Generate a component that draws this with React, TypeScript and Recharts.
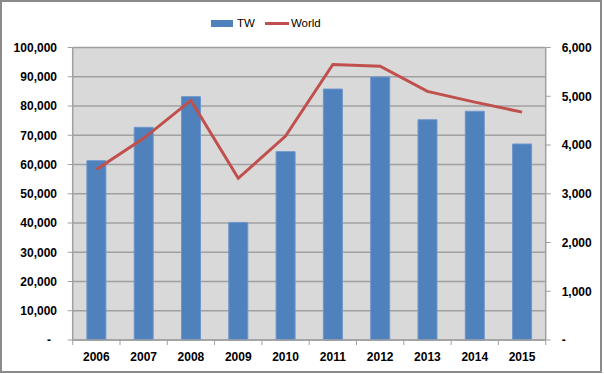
import {
  ComposedChart,
  Bar,
  Line,
  XAxis,
  YAxis,
  CartesianGrid,
  Legend,
} from "recharts";

const years = ["2006", "2007", "2008", "2009", "2010", "2011", "2012", "2013", "2014", "2015"];
const twValues = [61300, 72700, 83200, 40200, 64400, 85800, 89900, 75300, 78200, 67000];
const worldValues = [3495, 4137, 4915, 3317, 4184, 5652, 5617, 5099, 4880, 4675];
const leftTicks = [0, 10000, 20000, 30000, 40000, 50000, 60000, 70000, 80000, 90000, 100000];
const rightTicks = [0, 1000, 2000, 3000, 4000, 5000, 6000];

const data = years.map((year, i) => ({
  year,
  tw: twValues[i],
  world: worldValues[i],
}));

const CHART_W = 598;
const CHART_H = 369;
const LEFT_W = 70.7;
const RIGHT_W = 54.3;
const TOP = 45.5;
const X_H = 31;
const BAND = (CHART_W - LEFT_W - RIGHT_W) / years.length;

const FONT = "'Liberation Sans', Arial, sans-serif";
const AXIS_GRAY = "#a0a0a0";

const fmt = (v: number) => (v === 0 ? "-" : v.toLocaleString("en-US"));

function XTick(props: any) {
  const { x, y, payload, index } = props;
  const axisY = y - 12.7;
  return (
    <g>
      <line x1={x - BAND / 2} x2={x - BAND / 2} y1={axisY} y2={axisY + 5} stroke={AXIS_GRAY} />
      {index === years.length - 1 && (
        <line x1={x + BAND / 2} x2={x + BAND / 2} y1={axisY} y2={axisY + 5} stroke={AXIS_GRAY} />
      )}
      <text x={x} y={y} dy="0.71em" textAnchor="middle" fontFamily={FONT} fontSize={12} fontWeight="bold" fill="#000">
        {payload.value}
      </text>
    </g>
  );
}

function LeftTick(props: any) {
  const { x, y, payload } = props;
  return (
    <text x={payload.value === 0 ? x - 6 : x} y={y} dy="0.355em" textAnchor="end" fontFamily={FONT} fontSize={12} fontWeight="bold" fill="#000">
      {fmt(payload.value)}
    </text>
  );
}

function RightTick(props: any) {
  const { x, y, payload } = props;
  return (
    <text x={x} y={y} dy="0.355em" textAnchor="start" fontFamily={FONT} fontSize={12} fontWeight="bold" fill="#000">
      {fmt(payload.value)}
    </text>
  );
}

function LegendContent() {
  return (
    <div style={{ display: "flex", alignItems: "center", fontFamily: FONT, fontSize: 11.5, color: "#000", whiteSpace: "nowrap" }}>
      <span style={{ display: "inline-block", width: 22, height: 7, background: "#4f81bd", marginRight: 4 }} />
      <span style={{ marginRight: 10 }}>TW</span>
      <span style={{ display: "inline-block", width: 24, height: 3, background: "#c0504d", marginRight: 2 }} />
      <span>World</span>
    </div>
  );
}

export default function App() {
  return (
    <div
      style={{
        position: "absolute",
        left: 0,
        top: 0,
        width: 602,
        height: 373,
        border: "2px solid #8a8a8a",
        boxSizing: "border-box",
        background: "#fff",
      }}
    >
      <ComposedChart
        width={CHART_W}
        height={CHART_H}
        data={data}
        margin={{ top: TOP, right: 0, bottom: 0, left: 0 }}
        barCategoryGap="30%"
      >
        <CartesianGrid
          yAxisId="left"
          vertical={false}
          fill="#d9d9d9"
          stroke={AXIS_GRAY}
          strokeWidth={1.5}
        />
        <XAxis
          dataKey="year"
          height={X_H}
          tickLine={false}
          tickMargin={12.7}
          tickSize={0}
          axisLine={{ stroke: AXIS_GRAY, strokeWidth: 1.5 }}
          tick={<XTick />}
          interval={0}
        />
        <YAxis
          yAxisId="left"
          orientation="left"
          width={LEFT_W}
          domain={[0, 100000]}
          ticks={leftTicks}
          tickSize={5}
          tickMargin={10.7}
          tickLine={{ stroke: AXIS_GRAY }}
          axisLine={{ stroke: AXIS_GRAY, strokeWidth: 1.5 }}
          tick={<LeftTick />}
          interval={0}
        />
        <YAxis
          yAxisId="right"
          orientation="right"
          width={RIGHT_W}
          domain={[0, 6000]}
          ticks={rightTicks}
          tickSize={5}
          tickMargin={11}
          tickLine={{ stroke: AXIS_GRAY }}
          axisLine={{ stroke: AXIS_GRAY, strokeWidth: 1.5 }}
          tick={<RightTick />}
          interval={0}
        />
        <Legend
          verticalAlign="middle"
          align="center"
          layout="horizontal"
          content={<LegendContent />}
          wrapperStyle={{ top: 15, left: 209, width: "auto" }}
        />
        <Bar
          yAxisId="left"
          dataKey="tw"
          name="TW"
          fill="#4f81bd"
          stroke="#6d96cc"
          strokeWidth={1}
          isAnimationActive={false}
        />
        <Line
          yAxisId="right"
          dataKey="world"
          name="World"
          type="linear"
          stroke="#c0504d"
          strokeWidth={3}
          dot={false}
          activeDot={false}
          isAnimationActive={false}
        />
      </ComposedChart>
    </div>
  );
}
